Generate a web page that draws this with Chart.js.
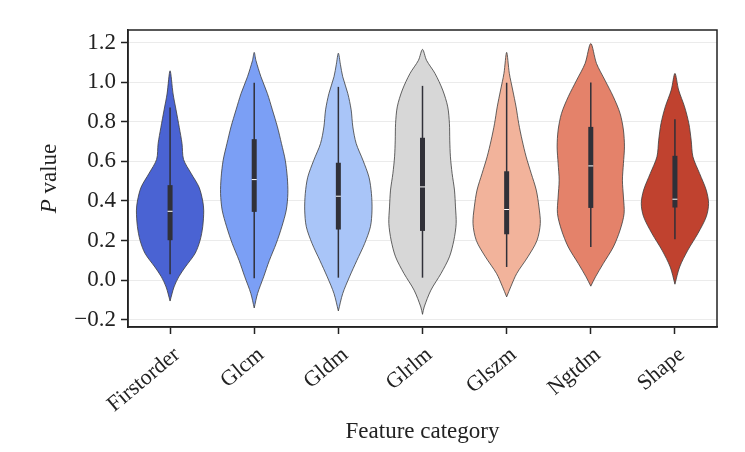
<!DOCTYPE html>
<html>
<head>
<meta charset="utf-8">
<script src="https://cdn.jsdelivr.net/npm/chart.js@4/dist/chart.umd.min.js"></script>
<style>
  html, body { margin: 0; padding: 0; background: #fff; }
  #wrap { width: 745px; height: 452px; }
</style>
</head>
<body>
<div id="wrap"><canvas id="violinChart" width="745" height="452"></canvas></div>
<script>
// Feature categories along the x axis
const categories = ['Firstorder', 'Glcm', 'Gldm', 'Glrlm', 'Glszm', 'Ngtdm', 'Shape'];

// Violin outlines: P value levels (top to bottom) and half widths
const profileY = [
    [1.057, 0.94, 0.86, 0.77, 0.69, 0.61, 0.54, 0.47, 0.40, 0.35, 0.27, 0.20, 0.135, 0.067, 0.017, -0.034, -0.105],
    [1.15, 1.11, 1.027, 0.943, 0.86, 0.774, 0.69, 0.606, 0.52, 0.438, 0.354, 0.27, 0.185, 0.10, 0.017, -0.067, -0.14],
    [1.146, 1.09, 1.027, 0.943, 0.86, 0.774, 0.69, 0.606, 0.52, 0.438, 0.354, 0.27, 0.185, 0.10, 0.017, -0.067, -0.155],
    [1.165, 1.11, 1.044, 0.96, 0.875, 0.79, 0.707, 0.623, 0.539, 0.455, 0.37, 0.286, 0.20, 0.118, 0.034, -0.05, -0.135, -0.172],
    [1.15, 1.044, 0.96, 0.875, 0.79, 0.707, 0.623, 0.539, 0.455, 0.37, 0.286, 0.20, 0.118, 0.034, -0.03, -0.084],
    [1.195, 1.094, 1.01, 0.926, 0.842, 0.758, 0.673, 0.589, 0.505, 0.42, 0.337, 0.253, 0.168, 0.084, 0.017, -0.03],
    [1.044, 0.96, 0.875, 0.79, 0.707, 0.623, 0.539, 0.455, 0.387, 0.32, 0.236, 0.152, 0.067, -0.02]
];
const profileW = [
    [0, 0.036, 0.071, 0.110, 0.142, 0.160, 0.249, 0.344, 0.388, 0.400, 0.388, 0.356, 0.297, 0.181, 0.103, 0.047, 0],
    [0, 0.020, 0.080, 0.156, 0.216, 0.276, 0.324, 0.369, 0.393, 0.400, 0.381, 0.328, 0.261, 0.180, 0.112, 0.040, 0],
    [0, 0.024, 0.052, 0.112, 0.152, 0.172, 0.212, 0.292, 0.364, 0.393, 0.400, 0.381, 0.312, 0.220, 0.132, 0.052, 0],
    [0, 0.048, 0.148, 0.240, 0.300, 0.320, 0.324, 0.332, 0.352, 0.380, 0.392, 0.400, 0.372, 0.320, 0.220, 0.100, 0.020, 0],
    [0, 0.032, 0.072, 0.112, 0.144, 0.184, 0.232, 0.292, 0.352, 0.384, 0.400, 0.360, 0.252, 0.120, 0.052, 0],
    [0, 0.068, 0.168, 0.268, 0.348, 0.388, 0.400, 0.388, 0.376, 0.388, 0.396, 0.348, 0.268, 0.148, 0.056, 0],
    [0, 0.044, 0.115, 0.166, 0.193, 0.214, 0.293, 0.372, 0.400, 0.372, 0.273, 0.154, 0.056, 0]
];

// Inner box statistics
const whiskerLow  = [0.030, 0.010, 0.013, 0.013, 0.067, 0.168, 0.207];
const whiskerHigh = [0.872, 0.997, 0.976, 0.981, 0.997, 0.998, 0.813];
const q1          = [0.202, 0.345, 0.256, 0.249, 0.232, 0.365, 0.367];
const q3          = [0.480, 0.712, 0.593, 0.719, 0.550, 0.774, 0.628];
const medians     = [0.348, 0.508, 0.424, 0.471, 0.357, 0.577, 0.409];

const fillColors = ['#4a63d3', '#7b9ff5', '#a9c5f8', '#d7d7d7', '#f2b39b', '#e4826a', '#c0422f'];

const serif = "'Liberation Serif', 'DejaVu Serif', serif";
const inkColor = '#222';
const boxColor = '#303038';

function violinOutline(i) {
    const ys = profileY[i];
    const ws = profileW[i];
    const pts = [];
    // right side bottom -> top
    for (let k = ys.length - 1; k >= 0; k--) {
        pts.push({ x: i + ws[k], y: ys[k] });
    }
    // left side top -> bottom (skip the shared tips)
    for (let k = 1; k < ys.length - 1; k++) {
        pts.push({ x: i - ws[k], y: ys[k] });
    }
    pts.push({ x: i + ws[ys.length - 1], y: ys[ys.length - 1] });
    return pts;
}

const datasets = [];
categories.forEach((cat, i) => {
    datasets.push({
        label: cat,
        data: violinOutline(i),
        backgroundColor: fillColors[i],
        borderColor: '#3c3c3c',
        borderWidth: 0.8,
        fill: 'shape',
        tension: 0.3,
        pointRadius: 0,
        order: 3
    });
    datasets.push({
        data: [{ x: i, y: whiskerLow[i] }, { x: i, y: whiskerHigh[i] }],
        borderColor: boxColor,
        borderWidth: 1.5,
        pointRadius: 0,
        fill: false,
        order: 2
    });
    datasets.push({
        data: [{ x: i, y: q1[i] }, { x: i, y: q3[i] }],
        borderColor: boxColor,
        borderWidth: 5,
        borderCapStyle: 'butt',
        pointRadius: 0,
        fill: false,
        order: 1
    });
    datasets.push({
        data: [{ x: i, y: medians[i] }],
        showLine: false,
        pointStyle: 'line',
        pointRadius: 2.5,
        pointBorderColor: '#ffffff',
        pointBorderWidth: 1,
        order: 0
    });
});

// frame around the plot and the y title with an italic P
const framePlugin = {
    id: 'frame',
    afterDraw(chart) {
        const { ctx, chartArea } = chart;
        ctx.save();
        ctx.strokeStyle = inkColor;
        ctx.lineWidth = 1.5;
        ctx.strokeRect(chartArea.left, chartArea.top, chartArea.right - chartArea.left, chartArea.bottom - chartArea.top);

        // y axis title
        const cy = (chartArea.top + chartArea.bottom) / 2;
        ctx.translate(50, cy);
        ctx.rotate(-Math.PI / 2);
        ctx.fillStyle = inkColor;
        ctx.textBaseline = 'middle';
        ctx.font = 'italic 23px ' + serif;
        const pw = ctx.measureText('P').width;
        ctx.font = '23px ' + serif;
        const vw = ctx.measureText(' value').width;
        const start = -(pw + vw) / 2;
        ctx.textAlign = 'left';
        ctx.font = 'italic 23px ' + serif;
        ctx.fillText('P', start, 0);
        ctx.font = '23px ' + serif;
        ctx.fillText(' value', start + pw, 0);
        ctx.restore();
    }
};

const ctx = document.getElementById('violinChart').getContext('2d');
new Chart(ctx, {
    type: 'line',
    data: { datasets: datasets },
    plugins: [framePlugin],
    options: {
        responsive: false,
        animation: false,
        layout: { padding: { top: 30, right: 28, left: 0, bottom: 0 } },
        plugins: {
            legend: { display: false },
            tooltip: { enabled: false }
        },
        scales: {
            x: {
                type: 'linear',
                min: -0.5,
                max: 6.5,
                afterBuildTicks: (scale) => {
                    scale.ticks = categories.map((c, i) => ({ value: i }));
                },
                afterFit: (scale) => { scale.height = 125; },
                grid: {
                    drawOnChartArea: false,
                    tickLength: 7,
                    tickColor: inkColor,
                    tickWidth: 1.5
                },
                border: { color: inkColor, width: 1.5 },
                ticks: {
                    autoSkip: false,
                    minRotation: 40,
                    maxRotation: 40,
                    padding: 8,
                    labelOffset: 7,
                    color: inkColor,
                    font: { family: serif, size: 22 },
                    callback: (v) => categories[v]
                },
                title: {
                    display: true,
                    text: 'Feature category',
                    color: inkColor,
                    font: { family: serif, size: 23 },
                    padding: { top: 0, bottom: 6 }
                }
            },
            y: {
                min: -0.236,
                max: 1.263,
                afterFit: (scale) => { scale.width = 128; },
                grid: {
                    color: '#ebebeb',
                    lineWidth: 1,
                    tickLength: 7,
                    tickColor: inkColor,
                    tickWidth: 1.5
                },
                border: { color: inkColor, width: 1.5 },
                ticks: {
                    stepSize: 0.2,
                    includeBounds: false,
                    padding: 5,
                    color: inkColor,
                    font: { family: serif, size: 23 },
                    callback: (v) => {
                        const s = (Math.round(v * 10) / 10).toFixed(1);
                        return s.replace('-', '\u2212');
                    }
                }
            }
        }
    }
});
</script>
</body>
</html>
